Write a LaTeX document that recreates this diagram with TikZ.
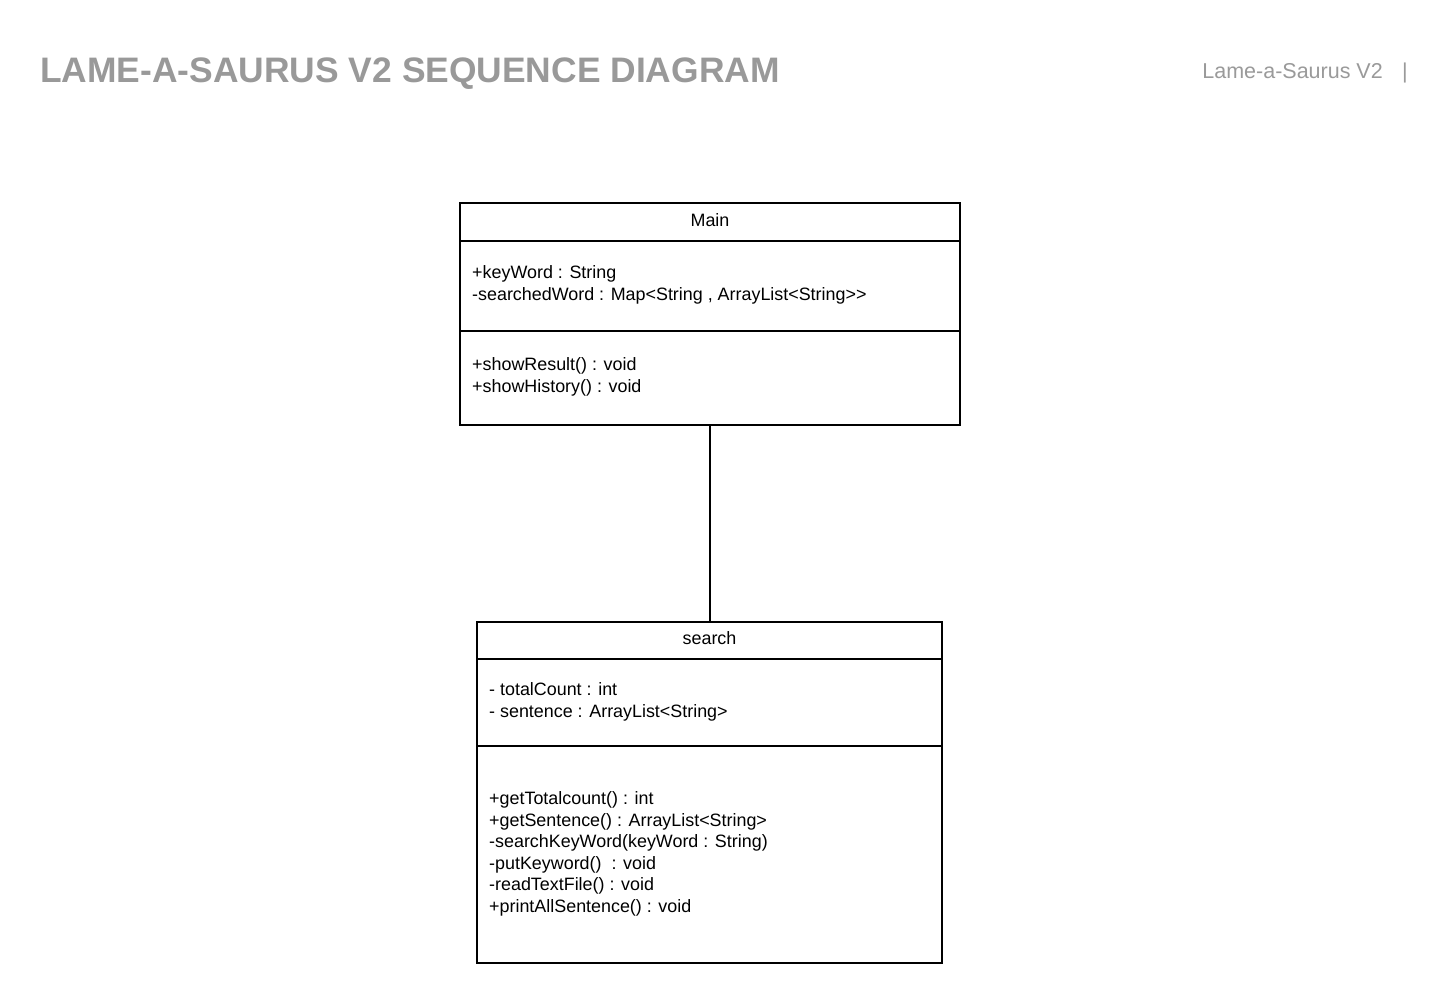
\documentclass[tikz,border=0pt]{standalone}
\usepackage{fontspec}
\setmainfont{Liberation Sans}
\definecolor{titlegray}{HTML}{999999}
\definecolor{subgray}{HTML}{9A9A9A}
\begin{document}
\begin{tikzpicture}[x=1pt,y=-1pt,
  divider/.style={line width=1.8pt},
  member/.style={anchor=base west,inner sep=0pt,font=\fontsize{17.9}{21}\selectfont},
  ctitle/.style={anchor=base,inner sep=0pt,font=\fontsize{17.9}{21}\selectfont},
  conn/.style={line width=1.8pt}]
\useasboundingbox (0,0) rectangle (1448,1003);
\fill[white] (0,0) rectangle (1448,1003);
% header
\node[anchor=base west,inner sep=0pt,text=titlegray,font=\fontsize{35.4}{40}\selectfont\bfseries] (title) at (40,83) {LAME-A-SAURUS V2 SEQUENCE DIAGRAM};
\node[anchor=base east,inner sep=0pt,text=subgray,font=\fontsize{21.5}{24}\selectfont] (sub) at (1383,79) {Lame-a-Saurus V2};
\node[anchor=base,inner sep=0pt,text=subgray,font=\fontsize{21.5}{24}\selectfont] (bar) at (1405,79) {|};
% Main class
\node[draw=black,line width=1.8pt,minimum width=500pt,minimum height=222pt,inner sep=0pt] (main) at (710,314) {};
\draw[divider] (460,241) -- (960,241);
\draw[divider] (460,331) -- (960,331);
\node[ctitle] (mainname) at (710,226) {Main};
\node[member] (m1) at (472,278.5) {+keyWord : String};
\node[member] (m2) at (472,300.5) {-searchedWord : Map<String , ArrayList<String>{}>};
\node[member] (m3) at (472,370.5) {+showResult() : void};
\node[member] (m4) at (472,392.5) {+showHistory() : void};
% search class
\node[draw=black,line width=1.8pt,minimum width=465pt,minimum height=341pt,inner sep=0pt] (search) at (709.5,792.5) {};
\draw[divider] (477,659) -- (942,659);
\draw[divider] (477,746) -- (942,746);
\node[ctitle] (searchname) at (709.5,644) {search};
\node[member] (s1) at (489,695.5) {- totalCount : int};
\node[member] (s2) at (489,717.5) {- sentence : ArrayList<String>};
\node[member] (s3) at (489,804.5) {+getTotalcount() : int};
\node[member] (s4) at (489,826.5) {+getSentence() : ArrayList<String>};
\node[member] (s5) at (489,847.5) {-searchKeyWord(keyWord : String)};
\node[member] (s6) at (489,869.5) {-putKeyword()\ \ : void};
\node[member] (s7) at (489,890.5) {-readTextFile() : void};
\node[member] (s8) at (489,912.5) {+printAllSentence() : void};
% connector
\draw[conn] (main.south -| 710,0) -- (search.north -| 710,0);
\end{tikzpicture}
\end{document}
